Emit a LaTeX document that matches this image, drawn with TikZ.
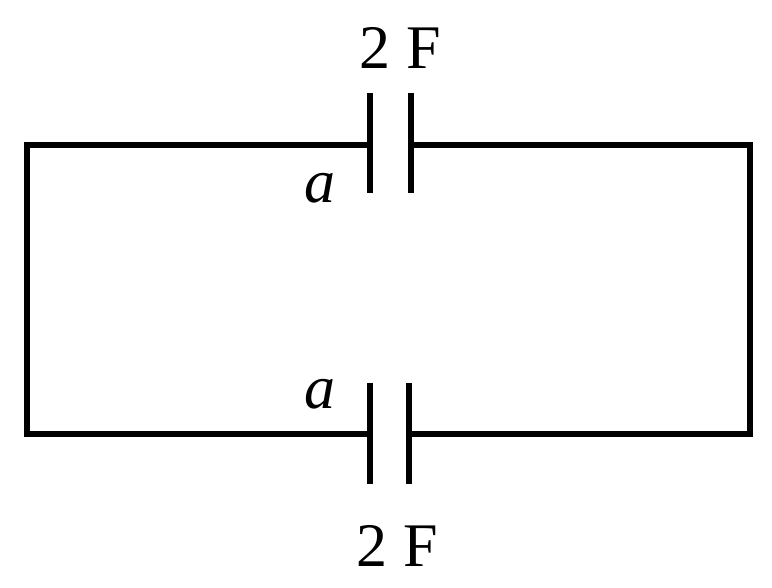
\documentclass[tikz,border=0pt]{standalone}
\usepackage{fontspec}
\setmainfont{Liberation Serif}
\begin{document}
\begin{tikzpicture}[x=1pt,y=-1pt,wire/.style={line width=5.5pt,line cap=rect},lbl/.style={font=\fontsize{62}{62}\selectfont,inner sep=0pt}]
\useasboundingbox (0,0) rectangle (772,588);
\coordinate (tl) at (27,145); \coordinate (tr) at (750,145);
\coordinate (bl) at (27,434); \coordinate (br) at (750,434);
\coordinate (t1) at (370,145); \coordinate (t2) at (411,145);
\coordinate (b1) at (370,434); \coordinate (b2) at (409,434);
\draw[wire] (t1) -- (tl) -- (bl) -- (b1);
\draw[wire] (t2) -- (tr) -- (br) -- (b2);
\draw[wire,line cap=butt] (370,93) -- (370,193) (411,93) -- (411,193);
\draw[wire,line cap=butt] (370,383) -- (370,484) (409,383) -- (409,484);
\node[lbl] (c1) at (400,48) {2 F};
\node[lbl] (c2) at (397,546) {2 F};
\node[lbl] (a1) at (320,188) {\itshape a};
\node[lbl] (a2) at (320,394) {\itshape a};
\end{tikzpicture}
\end{document}
